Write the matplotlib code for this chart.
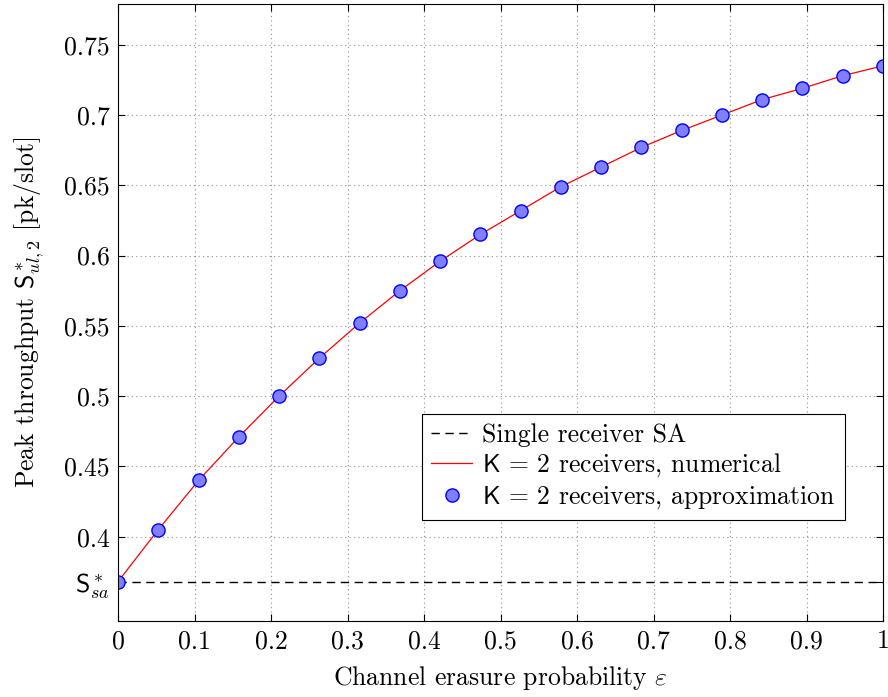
import numpy as np
import matplotlib.pyplot as plt

plt.rcParams['font.family'] = 'serif'
plt.rcParams['font.serif'] = ['cmr10', 'DejaVu Serif']
plt.rcParams['mathtext.fontset'] = 'cm'
plt.rcParams['axes.formatter.use_mathtext'] = True
plt.rcParams['axes.unicode_minus'] = False

eps = [i / 19 for i in range(20)]
s_num = [0.368, 0.405, 0.440, 0.471, 0.500, 0.527, 0.552, 0.575, 0.596, 0.615,
         0.632, 0.649, 0.663, 0.677, 0.689, 0.700, 0.711, 0.719, 0.728, 0.735]
s_approx = s_num
s_sa = 0.3679

fig = plt.figure(figsize=(8.88, 6.97), dpi=100)
ax = fig.add_axes([118 / 888, 76 / 697, 765 / 888, 617 / 697])

ax.axhline(s_sa, color='black', ls=(0, (6, 4)), lw=1.0, label='Single receiver SA')
ax.plot(eps, s_num, color='red', lw=0.9, label=r'$\mathsf{K}$ = 2 receivers, numerical')
ax.plot(eps, s_approx, ls='none', marker='o', ms=9.5, mfc='#7f7fff', mec='blue', mew=1,
        label=r'$\mathsf{K}$ = 2 receivers, approximation')

ax.set_xlim(0, 1)
ax.set_ylim(0.34, 0.779)
ax.set_xticks(np.arange(0, 1.01, 0.1))
ax.set_xticklabels(['0', '0.1', '0.2', '0.3', '0.4', '0.5', '0.6', '0.7', '0.8', '0.9', '1'])
yt = [s_sa, 0.4, 0.45, 0.5, 0.55, 0.6, 0.65, 0.7, 0.75]
ax.set_yticks(yt)
ax.set_yticklabels([r'$\mathsf{S}^*_{sa}$', '0.4', '0.45', '0.5', '0.55', '0.6', '0.65', '0.7', '0.75'])
ax.tick_params(direction='in', top=True, right=True, labelsize=18.5, length=5, pad=6)
ax.grid(True, ls=(0, (1, 3)), color='#909090', lw=0.8)
ax.yaxis.get_gridlines()[0].set_visible(False)

ax.set_xlabel(r'Channel erasure probability $\varepsilon$', fontsize=18.5, labelpad=8)
ax.set_ylabel(r'Peak throughput $\mathsf{S}^*_{ul,2}$ [pk/slot]', fontsize=18.5, labelpad=12)

leg = ax.legend(loc='lower right', bbox_to_anchor=(0.95, 0.164), borderaxespad=0,
                fontsize=18.5, fancybox=False, edgecolor='black', framealpha=1,
                handlelength=1.6, labelspacing=0.2, borderpad=0.35, handletextpad=0.4)
leg.get_frame().set_linewidth(0.8)

plt.savefig('out.png', dpi=100)
